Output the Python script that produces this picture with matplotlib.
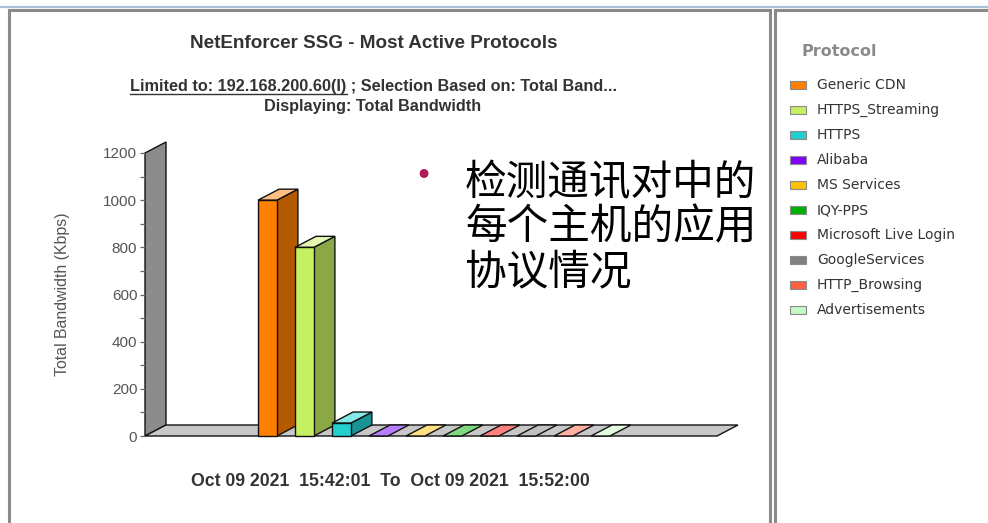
import matplotlib
matplotlib.use('Agg')
import matplotlib.pyplot as plt
from matplotlib.patches import Polygon, Rectangle
from matplotlib.lines import Line2D
from matplotlib.ticker import MultipleLocator

plt.rcParams['font.family'] = ['Liberation Sans', 'DejaVu Sans']

# --- datos ---
protocols = ['Generic CDN', 'HTTPS_Streaming', 'HTTPS', 'Alibaba', 'MS Services',
             'IQY-PPS', 'Microsoft Live Login', 'GoogleServices', 'HTTP_Browsing',
             'Advertisements']
bandwidth = [1000, 800, 55, 0, 0, 0, 0, 0, 0, 0]
front_colors = ['#ff7f00', '#c6ef62', '#22cfcf', '#8000ff', '#ffc000',
                '#00b000', '#ff0000', '#808080', '#ff6040', '#c4f8c4']
side_colors = ['#b35900', '#8aa846', '#189494', '#5a00b3', '#b38600',
               '#007b00', '#b30000', '#5a5a5a', '#b3432d', '#89ae89']
top_colors = ['#ffbf80', '#e3f7b0', '#86e8e8', '#b77dff', '#ffe080',
              '#7fd87f', '#ff8080', '#c0c0c0', '#ffb0a0', '#e2fce2']
y_ticks = [0, 200, 400, 600, 800, 1000, 1200]

title = 'NetEnforcer SSG - Most Active Protocols'
subtitle_link = 'Limited to: 192.168.200.60(I)'
subtitle_rest = ' ; Selection Based on: Total Band...'
subtitle2 = 'Displaying: Total Bandwidth'
y_label = 'Total Bandwidth (Kbps)'
time_range = 'Oct 09 2021  15:42:01  To  Oct 09 2021  15:52:00'
legend_title = 'Protocol'
note_lines = ['检测通讯对中的', '每个主机的应用', '协议情况']

# --- layout (pixeles) ---
W, H = 988, 523
fig = plt.figure(figsize=(W / 100, H / 100), dpi=100)
fig.patch.set_facecolor('white')


def fx(x):
    return x / W


def fy(y):
    return 1 - y / H


# marcos de los paneles
fig.add_artist(Line2D([0, 1], [fy(7), fy(7)], color='#a9c0dd', lw=1.6))
fig.add_artist(Rectangle((fx(9), fy(560)), fx(761), fy(10) - fy(560),
                         fill=False, ec='#8a8a8a', lw=2.2))
fig.add_artist(Rectangle((fx(775), fy(560)), fx(260), fy(10) - fy(560),
                         fill=False, ec='#8a8a8a', lw=2.2))

# --- ejes ---
X0, X1 = -3.31, 12.15
ax = fig.add_axes([fx(145), fy(436), (717 - 145) / W, (436 - 153) / H])
ax.set_xlim(X0, X1)
ax.set_ylim(0, 1200)
for s in ax.spines.values():
    s.set_visible(False)
ax.set_xticks([])
ax.set_yticks(y_ticks)
ax.yaxis.set_minor_locator(MultipleLocator(100))
ax.tick_params(axis='y', which='both', direction='out', length=3.5, width=0.9,
               color='#666666', labelsize=11, labelcolor='#555555', pad=2)
ax.patch.set_alpha(0)

# profundidad 3D en unidades de datos
DX = 21 * (X1 - X0) / 572
DY = 11 * 1200 / 283
bw = 0.51

kw = dict(ec='#111111', lw=1.0, clip_on=False, joinstyle='miter')
ax.add_patch(Polygon([(X0, 0), (X0, 1200), (X0 + DX, 1200 + DY), (X0 + DX, DY)],
                     fc='#8c8c8c', **kw))
ax.add_patch(Polygon([(X0, 0), (X1, 0), (X1 + DX, DY), (X0 + DX, DY)],
                     fc='#c8c8c8', **kw))

for i, v in enumerate(bandwidth):
    l, r = i - bw / 2, i + bw / 2
    if v > 0:
        ax.add_patch(Polygon([(r, 0), (r + DX, DY), (r + DX, v + DY), (r, v)],
                             fc=side_colors[i], **kw))
    ax.add_patch(Polygon([(l, v), (r, v), (r + DX, v + DY), (l + DX, v + DY)],
                         fc=top_colors[i], **kw))
    if v > 0:
        ax.bar(i, v, width=bw, color=front_colors[i], edgecolor='#111111',
               linewidth=1.0, clip_on=False)

fig.text(fx(62), fy(294), y_label, rotation=90, ha='center', va='center',
         fontsize=11.4, color='#555555')

# --- titulos ---
fig.text(fx(374), fy(44), title, ha='center', va='center', fontsize=13.6,
         fontweight='bold', color='#333333')
SUB_FS = 11.7
sub = fig.text(fx(374), fy(87), subtitle_link + subtitle_rest, ha='center',
               va='center', fontsize=SUB_FS, fontweight='bold', color='#333333')
fig.text(fx(373), fy(106), subtitle2, ha='center', va='center', fontsize=SUB_FS,
         fontweight='bold', color='#333333')

# subrayado del enlace
rend = fig.canvas.get_renderer()
bb = sub.get_window_extent(rend)
tmp = fig.text(0, 0, subtitle_link, fontsize=SUB_FS, fontweight='bold')
link_w = tmp.get_window_extent(rend).width
tmp.remove()
fig.add_artist(Line2D([bb.x0 / W, (bb.x0 + link_w) / W],
                      [(bb.y0 + 1) / H, (bb.y0 + 1) / H], color='#333333', lw=1.0))

fig.text(fx(390), fy(481), time_range, ha='center', va='center', fontsize=12.7,
         fontweight='bold', color='#333333')

# --- leyenda ---
fig.text(fx(801), fy(52), legend_title, ha='left', va='center', fontsize=11.5,
         fontweight='bold', color='#8a8a8a', family='DejaVu Sans')
for i, name in enumerate(protocols):
    yc = 85 + 25 * i
    fig.add_artist(Rectangle((fx(790), fy(yc + 4)), 16 / W, 8 / H,
                             fc=front_colors[i], ec='#8a8a8a', lw=0.8))
    fig.text(fx(817), fy(yc), name, ha='left', va='center', fontsize=10,
             color='#333333', family='DejaVu Sans')

# --- nota en chino ---
fig.text(fx(423), fy(176), '•', ha='center', va='center', fontsize=22,
         color='#b01c5c', family='DejaVu Sans')
for k, line in enumerate(note_lines):
    fig.text(fx(465), fy(183 + 45 * k), line, ha='left', va='center',
             fontsize=30, color='black',
             family=['Noto Sans CJK SC', 'DejaVu Sans'])

fig.savefig('out.png', dpi=100)
